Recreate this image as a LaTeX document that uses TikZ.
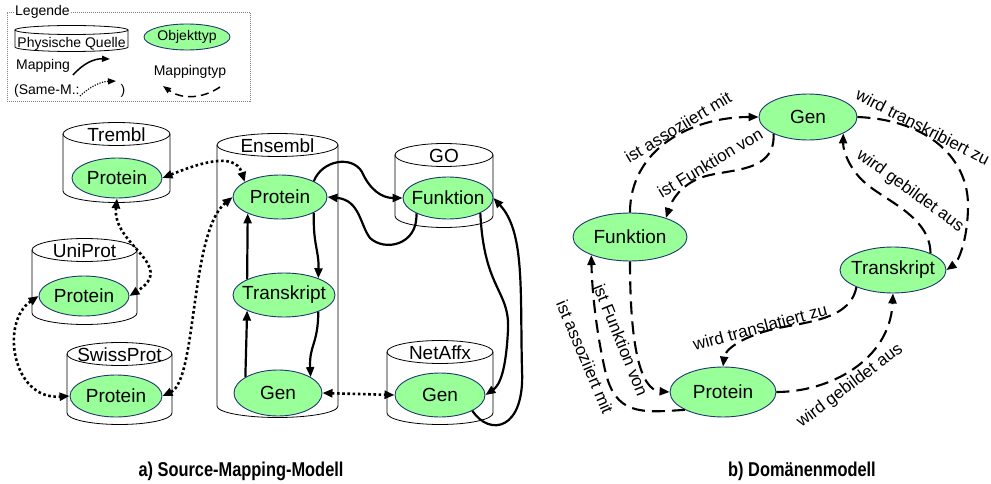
\documentclass[tikz,border=0pt]{standalone}
\usepackage{fontspec}
\setmainfont{Liberation Sans}
\usepackage{graphicx}
\usetikzlibrary{arrows.meta,shapes.geometric}
\definecolor{objfill}{RGB}{153,255,153}
\definecolor{objdraw}{RGB}{31,56,110}
\newcommand\cz[1]{\makebox[0pt]{#1}}
% name, cx, top-centre y, bottom-centre y, half width, label
\newcommand\dbcyl[6]{%
  \draw[cylline] (#2,#3) ellipse[x radius=#5pt, y radius=11.5pt];
  \draw[cylline] (#2-#5,#3) -- (#2-#5,#4) arc[start angle=180,end angle=360,x radius=#5pt,y radius=11.5pt] -- (#2+#5,#3);
  \node[cyllabel] (#1) at (#2,#3-1) {#6};
}
\begin{document}
\begin{tikzpicture}[x=1pt,y=1pt,
  obj/.style={ellipse, draw=objdraw, fill=objfill, line width=0.9pt, inner sep=0pt, font=\fontsize{19}{22}\selectfont},
  cylline/.style={draw=black, line width=0.8pt},
  cyllabel/.style={font=\fontsize{19}{22}\selectfont, inner sep=0pt},
  solidarr/.style={line width=2.2pt, -{Triangle[length=10pt,width=8pt]}},
  dotarr/.style={line width=2.6pt, dash pattern=on 2.6pt off 2.6pt, {Triangle[length=10pt,width=8pt]}-{Triangle[length=10pt,width=8pt]}},
  dasharr/.style={line width=2.1pt, dash pattern=on 13pt off 7pt, -{Triangle[length=10pt,width=8pt]}},
  elabel/.style={font=\fontsize{17}{20}\selectfont, inner sep=1pt},
  leg/.style={font=\fontsize{14}{16}\selectfont, inner sep=0pt},
  capstyle/.style={inner sep=0pt, anchor=base}]
\useasboundingbox (0,0) rectangle (991,-484);

% ---------------- legend ----------------
\node[draw=gray, line width=0.6pt, dash pattern=on 1pt off 1pt, minimum width=243pt, minimum height=89pt, inner sep=0pt] (legbox) at (128.5,-56.5) {};
\node[leg, fill=white, inner sep=1pt, anchor=west] (legt) at (14,-12) {Legende};
\draw[cylline] (71.5,-30) ellipse[x radius=56.5pt, y radius=4.5pt];
\draw[cylline] (15,-30) -- (15,-47) arc[start angle=180,end angle=360,x radius=56.5pt,y radius=4.5pt] -- (128,-30);
\node[leg] (lpq) at (71.5,-44) {Physische Quelle};
\node[obj, minimum width=86pt, minimum height=26pt, font=\fontsize{14}{16}\selectfont] (lobj) at (187,-37) {\cz{Objekttyp}};
\node[leg] (lmap) at (43,-66) {Mapping};
\coordinate (lm1) at (73,-75);
\coordinate (lm2) at (110,-59);
\draw[line width=1.5pt, -{Triangle[length=8pt,width=6pt]}] (lm1) to[bend left=25] (lm2);
\node[leg, anchor=west] (lsame) at (14,-91) {(Same-M.:};
\node[leg] (lclose) at (123,-91) {)};
\coordinate (ls1) at (80,-96);
\coordinate (ls2) at (116,-81);
\draw[line width=1.2pt, dash pattern=on 1.2pt off 1.4pt, -{Triangle[length=8pt,width=6pt]}] (ls1) to[bend left=20] (ls2);
\node[leg] (lmt) at (190,-72) {Mappingtyp};
\coordinate (lt1) at (220,-87);
\coordinate (lt2) at (163,-86);
\draw[line width=1.5pt, dash pattern=on 8pt off 5pt, -{Triangle[length=8pt,width=6pt]}] (lt1) to[bend left=35] (lt2);

% ---------------- a) source mapping model ----------------
\dbcyl{cTr}{116.5}{-134}{-191}{53.5}{Trembl}
\dbcyl{cUn}{84.5}{-250}{-313}{52.5}{UniProt}
\dbcyl{cSw}{119.5}{-354}{-413}{52.5}{SwissProt}
\dbcyl{cEn}{277.5}{-145}{-406}{60.5}{Ensembl}
\dbcyl{cGO}{444}{-155}{-216}{49}{GO}
\dbcyl{cNe}{440}{-352}{-413}{53}{NetAffx}

\node[obj, minimum width=90pt, minimum height=40pt] (tP) at (117,-178) {\cz{Protein}};
\node[obj, minimum width=90pt, minimum height=40pt] (uP) at (84,-296) {\cz{Protein}};
\node[obj, minimum width=92pt, minimum height=42pt] (sP) at (116,-396) {\cz{Protein}};
\node[obj, minimum width=94pt, minimum height=44pt] (eP) at (280,-197) {\cz{Protein}};
\node[obj, minimum width=102pt, minimum height=44pt] (eT) at (284,-295) {\cz{Transkript}};
\node[obj, minimum width=88pt, minimum height=46pt] (eG) at (278,-393) {\cz{Gen}};
\node[obj, minimum width=90pt, minimum height=42pt] (gF) at (448,-198) {\cz{Funktion}};
\node[obj, minimum width=90pt, minimum height=44pt] (nG) at (440,-395) {\cz{Gen}};

% dotted (same mappings)
\draw[dotarr] (tP.east) .. controls (195,-165) and (235,-150) .. (eP.157);
\draw[dotarr] (sP.east) .. controls (197,-380) and (190,-232) .. (eP.west);
\draw[dotarr] (tP.south) .. controls (112,-245) and (178,-265) .. (uP.east);
\draw[dotarr] (uP.west) .. controls (0,-322) and (12,-400) .. (sP.west);
\draw[dotarr] (eG.east) -- (nG.west);

% solid mappings
\draw[solidarr] (eP.25) .. controls (322,-160) and (352,-155) .. (362,-172) .. controls (370,-190) and (382,-198) .. (gF.west);
\draw[solidarr] (gF.206) .. controls (418,-245) and (385,-252) .. (370,-238) .. controls (360,-225) and (360,-200) .. (eP.east);
\draw[solidarr] (eP.-25) .. controls (313,-245) and (319,-250) .. (eT.26);
\draw[solidarr] (eT.-26) .. controls (318,-345) and (309,-345) .. (eG.26);
\draw[solidarr] (eG.154) -- (eT.203);
\draw[solidarr] (eT.157) -- (eP.207);
\draw[solidarr] (gF.-25) .. controls (484,-290) and (510,-290) .. (508,-330) .. controls (506,-370) and (500,-385) .. (nG.east);
\draw[solidarr] (nG.-26) .. controls (490,-437) and (525,-430) .. (522,-370) .. controls (520,-290) and (525,-232) .. (gF.east);

% ---------------- b) domain model ----------------
\node[obj, minimum width=98pt, minimum height=46pt] (dG) at (808,-117) {\cz{Gen}};
\node[obj, minimum width=114pt, minimum height=48pt] (dF) at (630,-237) {\cz{Funktion}};
\node[obj, minimum width=106pt, minimum height=46pt] (dT) at (893,-270) {\cz{Transkript}};
\node[obj, minimum width=106pt, minimum height=50pt] (dP) at (723,-392) {\cz{Protein}};

\draw[dasharr] (dF.north) .. controls (630,-150) and (690,-117) .. (dG.west);
\draw[dasharr] (dG.206) .. controls (776,-175) and (725,-168) .. (700,-178) .. controls (680,-186) and (672,-200) .. (dF.28);
\draw[dasharr] (dG.east) .. controls (930,-120) and (968,-160) .. (968,-205) .. controls (968,-240) and (958,-262) .. (dT.east);
\draw[dasharr] (dT.24) .. controls (930,-215) and (882,-200) .. (862,-180) .. controls (850,-168) and (843,-152) .. (dG.-25);
\draw[dasharr] (dT.205) .. controls (850,-322) and (800,-322) .. (770,-330) .. controls (740,-338) and (725,-350) .. (dP.north);
\draw[dasharr] (dP.east) .. controls (830,-392) and (890,-360) .. (dT.south);
\draw[dasharr] (dF.south) .. controls (630,-345) and (640,-390) .. (dP.west);
\draw[dasharr] (dP.205) .. controls (640,-413) and (615,-415) .. (605,-370) .. controls (596,-330) and (592,-290) .. (dF.205);

\node[elabel, rotate=31] (l1) at (678,-127) {ist assoziiert mit};
\node[elabel, rotate=31] (l2) at (710,-163) {ist Funktion von};
\node[elabel, rotate=-27] (l3) at (923,-127) {wird transkribiert zu};
\node[elabel, rotate=-36] (l4) at (910,-191) {wird gebildet aus};
\node[elabel, rotate=15] (l5) at (760,-327) {wird translatiert zu};
\node[elabel, rotate=37] (l6) at (850,-386) {wird gebildet aus};
\node[elabel, rotate=-68] (l7) at (621,-340) {ist Funktion von};
\node[elabel, rotate=-67] (l8) at (585,-357) {ist assoziiert mit};

% captions
\node[capstyle] (capa) at (241,-476) {\scalebox{0.82}[1]{\fontsize{20}{22}\selectfont\bfseries a) Source-Mapping-Modell}};
\node[capstyle] (capb) at (802,-476) {\scalebox{0.82}[1]{\fontsize{20}{22}\selectfont\bfseries b) Domänenmodell}};
\end{tikzpicture}
\end{document}
